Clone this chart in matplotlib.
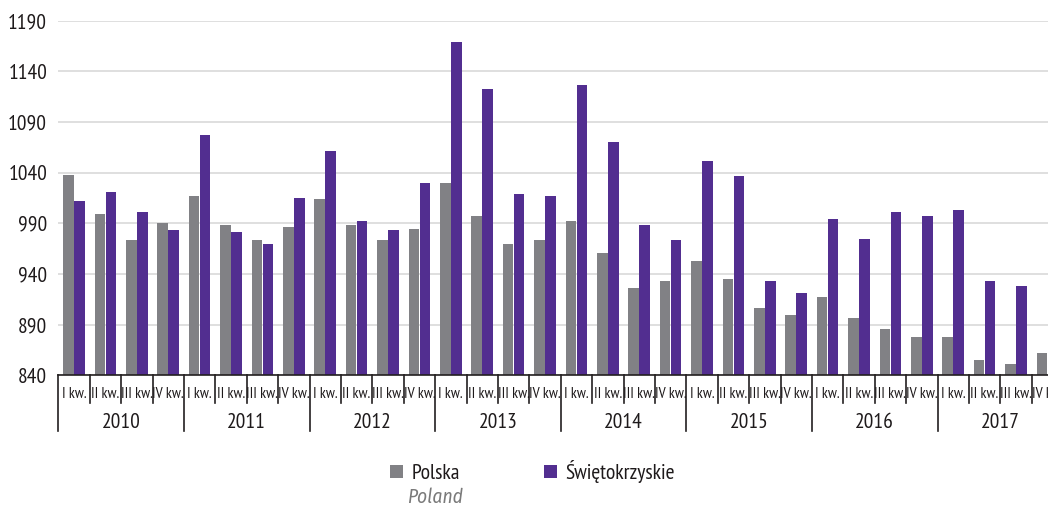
import matplotlib
matplotlib.use("Agg")
import matplotlib.pyplot as plt
import matplotlib.transforms as mtransforms
from matplotlib.patches import Patch
from matplotlib import font_manager
import numpy as np

_avail = {f.name for f in font_manager.fontManager.ttflist}
FONT = next((f for f in ['PT Sans Narrow', 'Roboto Condensed', 'Fira Sans Condensed',
                         'IBM Plex Sans Condensed', 'Open Sans Condensed', 'Liberation Sans']
             if f in _avail), 'DejaVu Sans')
_italic = {f.name for f in font_manager.fontManager.ttflist if f.style == 'italic'}
IFONT = next((f for f in ['Fira Sans Condensed', 'Roboto Condensed', 'IBM Plex Sans Condensed',
                          'PT Sans', 'Open Sans', 'Liberation Sans']
              if f in _italic), 'DejaVu Sans')
plt.rcParams['font.family'] = [FONT, 'DejaVu Sans']

years = ['2010', '2011', '2012', '2013', '2014', '2015', '2016', '2017']
quarters = ['I kw.', 'II kw.', 'III kw.', 'IV kw.']
polska = [1038, 999, 974, 990,
          1017, 988, 974, 986,
          1014, 988, 974, 984,
          1030, 997, 970, 974,
          992, 961, 926, 933,
          953, 935, 906, 900,
          917, 897, 886, 878,
          878, 855, 851, 862]
swietokrzyskie = [1012, 1021, 1001, 983,
                  1077, 981, 970, 1015,
                  1061, 992, 983, 1030,
                  1169, 1123, 1019, 1017,
                  1127, 1070, 988, 974,
                  1052, 1037, 933, 921,
                  994, 975, 1001, 997,
                  1003, 933, 928, 968]
yticks = [840, 890, 940, 990, 1040, 1090, 1140, 1190]

GRAY = '#818185'
PURPLE = '#522e90'
TXT = '#1e1a1b'

W, H = 1048, 507
fig = plt.figure(figsize=(W / 100, H / 100), dpi=100)
ax_left, ax_right = 58.3, 1048
ax_top, ax_bot = 20.7, 375.3
ax = fig.add_axes([ax_left / W, 1 - ax_bot / H, (ax_right - ax_left) / W, (ax_bot - ax_top) / H])

n = len(polska)
x = np.arange(n)
bw = 0.34
ax.bar(x - 0.175, polska, width=bw, color=GRAY, zorder=2, label='Polska')
ax.bar(x + 0.175, swietokrzyskie, width=bw, color=PURPLE, zorder=2, label='Świętokrzyskie')

ax.set_ylim(840, 1190)
ax.set_xlim(-0.5, -0.5 + (ax_right - ax_left) / 31.4)
ax.set_yticks(yticks)
ax.set_yticklabels([str(v) for v in yticks], fontsize=15.5, color=TXT)
ax.tick_params(axis='y', length=0, pad=8)
ax.tick_params(axis='x', length=0, labelbottom=False)
ax.grid(axis='y', color='#d6d6d6', linewidth=1.1, zorder=0)
for s in ['top', 'right', 'left']:
    ax.spines[s].set_visible(False)
ax.spines['bottom'].set_color('#231f20')
ax.spines['bottom'].set_linewidth(1.2)
ax.spines['bottom'].set_zorder(3)

trans = mtransforms.blended_transform_factory(ax.transData, ax.transAxes)
h_px = ax_bot - ax_top
def ay(py):
    return (ax_bot - py) / h_px

# separators
for i in range(n + 1):
    xb = i - 0.5
    yb = ay(431) if i % 4 == 0 else ay(403)
    ax.plot([xb, xb], [0, yb], transform=trans, color='#231f20', lw=1.2, clip_on=False)

# quarter labels
for i in range(n):
    ax.text(i, ay(394), quarters[i % 4], transform=trans, ha='center', va='center',
            fontsize=11, color=TXT, clip_on=False)
# year labels
for k, yr in enumerate(years):
    ax.text(4 * k + 1.5, ay(423), yr, transform=trans, ha='center', va='center',
            fontsize=15.5, color=TXT, clip_on=False)

handles = [Patch(facecolor=GRAY, label='Polska'), Patch(facecolor=PURPLE, label='Świętokrzyskie')]
fig.legend(handles=handles, loc='upper left', bbox_to_anchor=(390 / W, 1 - 460 / H), ncol=2,
           frameon=False, fontsize=15.5, handlelength=0.6, handleheight=0.6,
           handletextpad=0.4, columnspacing=3.9, borderpad=0, borderaxespad=0,
           labelcolor=TXT)
fig.text(407 / W, 1 - 497 / H, 'Poland', fontsize=14, style='italic', color='#7a7a7a',
         family=IFONT, ha='left', va='center')

fig.savefig('out.png', dpi=100)
